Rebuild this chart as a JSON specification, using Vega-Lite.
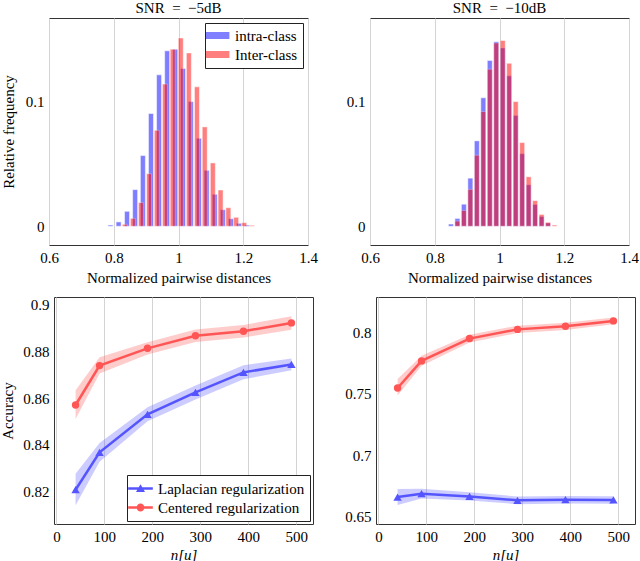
{
  "$schema": "https://vega.github.io/schema/vega-lite/v6.json",
  "background": "white",
  "padding": {"left": 0, "top": 0, "right": 0, "bottom": 0},
  "datasets": {
    "hist5": [
      {"series": "intra-class", "d": 0.790, "f": 0.001},
      {"series": "intra-class", "d": 0.815, "f": 0.0035},
      {"series": "intra-class", "d": 0.841, "f": 0.012},
      {"series": "intra-class", "d": 0.866, "f": 0.0294},
      {"series": "intra-class", "d": 0.890, "f": 0.0567},
      {"series": "intra-class", "d": 0.915, "f": 0.0904},
      {"series": "intra-class", "d": 0.940, "f": 0.1214},
      {"series": "intra-class", "d": 0.965, "f": 0.1407},
      {"series": "intra-class", "d": 0.990, "f": 0.142},
      {"series": "intra-class", "d": 1.014, "f": 0.1265},
      {"series": "intra-class", "d": 1.038, "f": 0.100},
      {"series": "intra-class", "d": 1.063, "f": 0.0706},
      {"series": "intra-class", "d": 1.087, "f": 0.0449},
      {"series": "intra-class", "d": 1.112, "f": 0.0257},
      {"series": "intra-class", "d": 1.137, "f": 0.0133},
      {"series": "intra-class", "d": 1.162, "f": 0.0061},
      {"series": "intra-class", "d": 1.187, "f": 0.0024},
      {"series": "intra-class", "d": 1.211, "f": 0.001},
      {"series": "Inter-class", "d": 0.834, "f": 0.0016},
      {"series": "Inter-class", "d": 0.859, "f": 0.0064},
      {"series": "Inter-class", "d": 0.884, "f": 0.019},
      {"series": "Inter-class", "d": 0.909, "f": 0.0422},
      {"series": "Inter-class", "d": 0.933, "f": 0.077},
      {"series": "Inter-class", "d": 0.958, "f": 0.114},
      {"series": "Inter-class", "d": 0.982, "f": 0.142},
      {"series": "Inter-class", "d": 1.007, "f": 0.151},
      {"series": "Inter-class", "d": 1.032, "f": 0.139},
      {"series": "Inter-class", "d": 1.057, "f": 0.1118},
      {"series": "Inter-class", "d": 1.081, "f": 0.0797},
      {"series": "Inter-class", "d": 1.106, "f": 0.0508},
      {"series": "Inter-class", "d": 1.130, "f": 0.0291},
      {"series": "Inter-class", "d": 1.154, "f": 0.0149},
      {"series": "Inter-class", "d": 1.178, "f": 0.0072},
      {"series": "Inter-class", "d": 1.203, "f": 0.0029},
      {"series": "Inter-class", "d": 1.227, "f": 0.0008}
    ],
    "hist10": [
      {"series": "intra-class", "d": 0.85, "f": 0.0018},
      {"series": "intra-class", "d": 0.87, "f": 0.0063},
      {"series": "intra-class", "d": 0.89, "f": 0.0177},
      {"series": "intra-class", "d": 0.91, "f": 0.0386},
      {"series": "intra-class", "d": 0.93, "f": 0.0685},
      {"series": "intra-class", "d": 0.95, "f": 0.103},
      {"series": "intra-class", "d": 0.97, "f": 0.133},
      {"series": "intra-class", "d": 0.99, "f": 0.148},
      {"series": "intra-class", "d": 1.01, "f": 0.143},
      {"series": "intra-class", "d": 1.03, "f": 0.1206},
      {"series": "intra-class", "d": 1.05, "f": 0.0889},
      {"series": "intra-class", "d": 1.07, "f": 0.0582},
      {"series": "intra-class", "d": 1.09, "f": 0.0333},
      {"series": "intra-class", "d": 1.11, "f": 0.0175},
      {"series": "intra-class", "d": 1.13, "f": 0.0079},
      {"series": "intra-class", "d": 1.15, "f": 0.0026},
      {"series": "Inter-class", "d": 0.87, "f": 0.0042},
      {"series": "Inter-class", "d": 0.89, "f": 0.0127},
      {"series": "Inter-class", "d": 0.91, "f": 0.0296},
      {"series": "Inter-class", "d": 0.93, "f": 0.057},
      {"series": "Inter-class", "d": 0.95, "f": 0.092},
      {"series": "Inter-class", "d": 0.97, "f": 0.126},
      {"series": "Inter-class", "d": 0.99, "f": 0.147},
      {"series": "Inter-class", "d": 1.01, "f": 0.149},
      {"series": "Inter-class", "d": 1.03, "f": 0.1307},
      {"series": "Inter-class", "d": 1.05, "f": 0.100},
      {"series": "Inter-class", "d": 1.07, "f": 0.0671},
      {"series": "Inter-class", "d": 1.09, "f": 0.0397},
      {"series": "Inter-class", "d": 1.11, "f": 0.0206},
      {"series": "Inter-class", "d": 1.13, "f": 0.0095},
      {"series": "Inter-class", "d": 1.15, "f": 0.0032},
      {"series": "Inter-class", "d": 1.17, "f": 0.001}
    ],
    "acc5": [
      {"method": "Laplacian regularization", "n": 40, "acc": 0.8207, "lo": 0.8140, "hi": 0.8275},
      {"method": "Laplacian regularization", "n": 90, "acc": 0.8367, "lo": 0.8327, "hi": 0.8407},
      {"method": "Laplacian regularization", "n": 190, "acc": 0.8530, "lo": 0.8500, "hi": 0.8560},
      {"method": "Laplacian regularization", "n": 290, "acc": 0.8624, "lo": 0.8594, "hi": 0.8654},
      {"method": "Laplacian regularization", "n": 390, "acc": 0.8710, "lo": 0.8680, "hi": 0.8740},
      {"method": "Laplacian regularization", "n": 490, "acc": 0.8744, "lo": 0.8719, "hi": 0.8769},
      {"method": "Centered regularization", "n": 40, "acc": 0.8570, "lo": 0.8510, "hi": 0.8633},
      {"method": "Centered regularization", "n": 90, "acc": 0.8739, "lo": 0.8705, "hi": 0.8775},
      {"method": "Centered regularization", "n": 190, "acc": 0.8813, "lo": 0.8787, "hi": 0.8839},
      {"method": "Centered regularization", "n": 290, "acc": 0.8867, "lo": 0.8840, "hi": 0.8894},
      {"method": "Centered regularization", "n": 390, "acc": 0.8886, "lo": 0.8859, "hi": 0.8913},
      {"method": "Centered regularization", "n": 490, "acc": 0.8922, "lo": 0.8893, "hi": 0.8950}
    ],
    "acc10": [
      {"method": "Laplacian regularization", "n": 40, "acc": 0.6658, "lo": 0.6593, "hi": 0.6723},
      {"method": "Laplacian regularization", "n": 90, "acc": 0.6685, "lo": 0.6645, "hi": 0.6725},
      {"method": "Laplacian regularization", "n": 190, "acc": 0.6663, "lo": 0.6630, "hi": 0.6697},
      {"method": "Laplacian regularization", "n": 290, "acc": 0.6631, "lo": 0.6600, "hi": 0.6662},
      {"method": "Laplacian regularization", "n": 390, "acc": 0.6636, "lo": 0.6605, "hi": 0.6667},
      {"method": "Laplacian regularization", "n": 490, "acc": 0.6634, "lo": 0.6604, "hi": 0.6664},
      {"method": "Centered regularization", "n": 40, "acc": 0.7547, "lo": 0.7485, "hi": 0.7620},
      {"method": "Centered regularization", "n": 90, "acc": 0.7768, "lo": 0.7728, "hi": 0.7810},
      {"method": "Centered regularization", "n": 190, "acc": 0.7950, "lo": 0.7918, "hi": 0.7982},
      {"method": "Centered regularization", "n": 290, "acc": 0.8025, "lo": 0.7995, "hi": 0.8055},
      {"method": "Centered regularization", "n": 390, "acc": 0.8050, "lo": 0.8020, "hi": 0.8080},
      {"method": "Centered regularization", "n": 490, "acc": 0.8094, "lo": 0.8066, "hi": 0.8122}
    ]
  },
  "vconcat": [
    {
      "hconcat": [
        {
          "width": 259, "height": 227,
          "title": {"text": "SNR\u2002=\u2002\u22125dB"},
          "data": {"name": "hist5"},
          "mark": {"type": "bar", "width": 5, "opacity": 0.5, "stroke": "white", "strokeWidth": 0.5},
          "encoding": {
            "x": {"field": "d", "type": "quantitative", "scale": {"domain": [0.6, 1.4], "nice": false, "zero": false, "padding": 0}, "axis": {"values": [0.6, 0.8, 1, 1.2, 1.4], "format": "~g", "title": "Normalized pairwise distances"}},
            "y": {"field": "f", "type": "quantitative", "scale": {"domain": [-0.015, 0.167], "nice": false, "zero": false, "padding": 0}, "axis": {"values": [0, 0.1], "format": "~g", "title": "Relative frequency", "titlePadding": 9}},
            "y2": {"datum": 0},
            "color": {"field": "series", "type": "nominal", "scale": {"domain": ["intra-class", "Inter-class"], "range": ["#0000ff", "#ff0000"]},
              "legend": {"title": null, "orient": "top-right", "offset": 5, "symbolType": "M-1.7,-0.5H1.7V0.5H-1.7Z", "symbolSize": 196, "symbolStrokeWidth": 0, "symbolOpacity": 0.5, "labelOffset": 10, "rowPadding": 3, "padding": 5}}
          }
        },
        {
          "width": 259, "height": 227,
          "title": {"text": "SNR\u2002=\u2002\u221210dB"},
          "data": {"name": "hist10"},
          "mark": {"type": "bar", "width": 5, "opacity": 0.5, "stroke": "white", "strokeWidth": 0.5},
          "encoding": {
            "x": {"field": "d", "type": "quantitative", "scale": {"domain": [0.6, 1.4], "nice": false, "zero": false, "padding": 0}, "axis": {"values": [0.6, 0.8, 1, 1.2, 1.4], "format": "~g", "title": "Normalized pairwise distances"}},
            "y": {"field": "f", "type": "quantitative", "scale": {"domain": [-0.015, 0.167], "nice": false, "zero": false, "padding": 0}, "axis": {"values": [0, 0.1], "format": "~g", "title": null}},
            "y2": {"datum": 0},
            "color": {"field": "series", "type": "nominal", "scale": {"domain": ["intra-class", "Inter-class"], "range": ["#0000ff", "#ff0000"]}, "legend": null}
          }
        }
      ],
      "spacing": 62,
      "bounds": "flush",
      "resolve": {"scale": {"color": "independent", "shape": "independent"}, "legend": {"color": "independent", "shape": "independent"}}
    },
    {
      "hconcat": [
        {
          "width": 5, "height": 10,
          "data": {"name": "acc5"},
          "mark": {"type": "point", "opacity": 0},
          "view": {"stroke": null}
        },
        {
          "hconcat": [
            {
              "width": 259, "height": 227,
              "data": {"name": "acc5"},
              "encoding": {
                "x": {"field": "n", "type": "quantitative", "scale": {"domain": [-5, 535], "nice": false, "zero": false}, "axis": {"values": [0, 100, 200, 300, 400, 500], "title": "n[u]", "titleFontStyle": "italic", "titlePadding": 3}},
                "y": {"field": "acc", "type": "quantitative", "scale": {"domain": [0.806, 0.9033], "nice": false, "zero": false}, "axis": {"values": [0.82, 0.84, 0.86, 0.88, 0.9], "format": "~g", "title": "Accuracy", "titlePadding": 7}}
              },
              "layer": [
                {
                  "transform": [{"filter": "datum.method === 'Laplacian regularization'"}],
                  "layer": [
                    {"mark": {"type": "area", "opacity": 0.3, "color": "#5555ff"}, "encoding": {"y": {"field": "lo", "type": "quantitative"}, "y2": {"field": "hi"}}},
                    {"mark": {"type": "line", "strokeWidth": 2.5, "color": "#5555ff"}, "encoding": {}},
                    {"mark": {"type": "point", "shape": "triangle-up", "filled": true, "size": 70, "opacity": 1, "color": "#5555ff"}}
                  ]
                },
                {
                  "transform": [{"filter": "datum.method === 'Centered regularization'"}],
                  "layer": [
                    {"mark": {"type": "area", "opacity": 0.3, "color": "#ff5555"}, "encoding": {"y": {"field": "lo", "type": "quantitative"}, "y2": {"field": "hi"}}},
                    {"mark": {"type": "line", "strokeWidth": 2.5, "color": "#ff5555"}, "encoding": {}},
                    {"mark": {"type": "point", "shape": "circle", "filled": true, "size": 55, "opacity": 1, "color": "#ff5555"}}
                  ]
                },
                {
                  "mark": {"type": "point", "filled": true, "opacity": 0},
                  "encoding": {
                    "color": {"field": "method", "type": "nominal", "scale": {"domain": ["Laplacian regularization", "Centered regularization"], "range": ["#5555ff", "#ff5555"]},
                      "legend": {"title": null, "orient": "bottom-right", "offset": 3, "symbolSize": 289, "symbolStrokeWidth": 0, "symbolOpacity": 1, "labelOffset": 9, "rowPadding": 2, "padding": 5}},
                    "shape": {"field": "method", "type": "nominal", "scale": {"domain": ["Laplacian regularization", "Centered regularization"], "range": ["M-1.45,-0.14H1.45V0.14H-1.45ZM0,-0.5L0.53,0.4H-0.53Z", "M-1.45,-0.14H1.45V0.14H-1.45ZM0.46,0A0.46,0.46,0,1,1,-0.46,0A0.46,0.46,0,1,1,0.46,0Z"]},
                      "legend": {"title": null, "orient": "bottom-right", "offset": 3, "symbolSize": 289, "symbolStrokeWidth": 0, "symbolOpacity": 1, "labelOffset": 9, "rowPadding": 2, "padding": 5}}
                  }
                }
              ]
            },
            {
              "width": 259, "height": 227,
              "data": {"name": "acc10"},
              "encoding": {
                "x": {"field": "n", "type": "quantitative", "scale": {"domain": [-5, 535], "nice": false, "zero": false}, "axis": {"values": [0, 100, 200, 300, 400, 500], "title": "n[u]", "titleFontStyle": "italic", "titlePadding": 3}},
                "y": {"field": "acc", "type": "quantitative", "scale": {"domain": [0.6438, 0.8289], "nice": false, "zero": false}, "axis": {"values": [0.65, 0.7, 0.75, 0.8], "format": "~g", "title": null}}
              },
              "layer": [
                {
                  "transform": [{"filter": "datum.method === 'Laplacian regularization'"}],
                  "layer": [
                    {"mark": {"type": "area", "opacity": 0.3, "color": "#5555ff"}, "encoding": {"y": {"field": "lo", "type": "quantitative"}, "y2": {"field": "hi"}}},
                    {"mark": {"type": "line", "strokeWidth": 2.5, "color": "#5555ff"}, "encoding": {}},
                    {"mark": {"type": "point", "shape": "triangle-up", "filled": true, "size": 70, "opacity": 1, "color": "#5555ff"}}
                  ]
                },
                {
                  "transform": [{"filter": "datum.method === 'Centered regularization'"}],
                  "layer": [
                    {"mark": {"type": "area", "opacity": 0.3, "color": "#ff5555"}, "encoding": {"y": {"field": "lo", "type": "quantitative"}, "y2": {"field": "hi"}}},
                    {"mark": {"type": "line", "strokeWidth": 2.5, "color": "#ff5555"}, "encoding": {}},
                    {"mark": {"type": "point", "shape": "circle", "filled": true, "size": 55, "opacity": 1, "color": "#ff5555"}}
                  ]
                }
              ]
            }
          ],
          "spacing": 63,
          "bounds": "flush",
          "resolve": {"scale": {"color": "independent", "shape": "independent"}, "legend": {"color": "independent", "shape": "independent"}}
        }
      ],
      "spacing": 0,
      "bounds": "flush",
      "resolve": {"scale": {"color": "independent", "shape": "independent"}, "legend": {"color": "independent", "shape": "independent"}}
    }
  ],
  "spacing": 10,
  "resolve": {"scale": {"color": "independent", "shape": "independent"}, "legend": {"color": "independent", "shape": "independent"}},
  "config": {
    "font": "Liberation Serif, DejaVu Serif, serif",
    "view": {"stroke": "#333333", "strokeWidth": 1},
    "axis": {
      "labelFont": "Liberation Serif, DejaVu Serif, serif", "titleFont": "Liberation Serif, DejaVu Serif, serif",
      "labelFontSize": 15, "titleFontSize": 15, "titleFontWeight": "normal",
      "labelColor": "#000000", "titleColor": "#000000",
      "domain": false, "ticks": false, "tickSize": 0,
      "labelPadding": 5, "labelFlush": false, "labelOverlap": false, "labelBound": false,
      "gridColor": "#d4d4d4", "gridWidth": 1
    },
    "axisX": {"grid": true, "titlePadding": 5},
    "axisY": {"grid": false},
    "title": {"font": "Liberation Serif, DejaVu Serif, serif", "fontSize": 15, "fontWeight": "normal", "color": "#000000", "offset": 2, "frame": "group"},
    "legend": {"labelFont": "Liberation Serif, DejaVu Serif, serif", "labelFontSize": 15, "labelColor": "#000000", "strokeColor": "#222222", "fillColor": "white", "cornerRadius": 0}
  }
}
